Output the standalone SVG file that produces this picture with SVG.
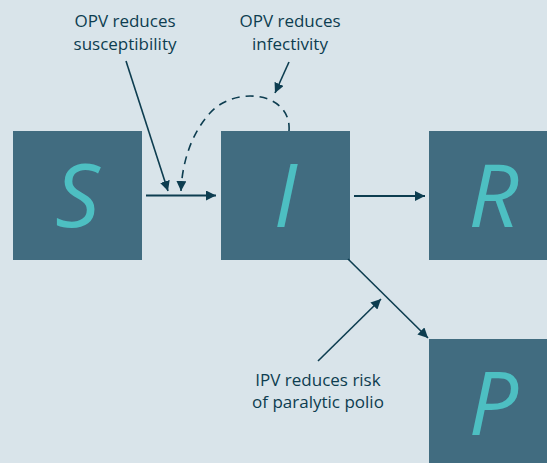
<svg xmlns="http://www.w3.org/2000/svg" width="547" height="463" viewBox="0 0 547 463">
<defs>
<style>
.box{fill:#416c80}
.let{fill:#4dbfc2;font-family:"Open Sans","Noto Sans",sans-serif;font-style:italic;font-size:88px;text-anchor:middle}
.lbl{fill:#0d3d50;font-family:"Open Sans","Noto Sans",sans-serif;font-size:17px;text-anchor:middle}
.ln{stroke:#0d3d50;fill:none;stroke-width:1.6}
.thick{stroke-width:2.2}
</style>
<marker id="ah" viewBox="0 0 10 10" refX="10" refY="5" markerWidth="10" markerHeight="10" markerUnits="userSpaceOnUse" orient="auto">
<path d="M0,0 L10,5 L0,10 Z" fill="#0d3d50"/>
</marker>
</defs>
<rect width="547" height="463" fill="#d9e4ea"/>
<g id="S"><rect class="box" x="13" y="131" width="129" height="129"/><text class="let" x="77.5" y="226.5">S</text></g>
<g id="I"><rect class="box" x="221" y="131" width="129" height="129"/><text class="let" x="285.5" y="226.5">I</text></g>
<g id="R"><rect class="box" x="429" y="131" width="129" height="129"/><text class="let" x="493.5" y="226.5">R</text></g>
<g id="P"><rect class="box" x="429" y="339" width="129" height="129"/><text class="let" x="493.5" y="434.5">P</text></g>
<g id="label-susceptibility"><text class="lbl" x="125" y="27">OPV reduces</text><text class="lbl" x="125" y="50">susceptibility</text></g>
<g id="label-infectivity"><text class="lbl" x="290" y="27">OPV reduces</text><text class="lbl" x="290" y="50">infectivity</text></g>
<g id="label-ipv"><text class="lbl" x="318" y="386">IPV reduces risk</text><text class="lbl" x="318" y="408">of paralytic polio</text></g>
<g id="connectors">
<line class="ln thick" x1="146" y1="195.5" x2="216" y2="195.5" marker-end="url(#ah)"/>
<line class="ln thick" x1="354" y1="196" x2="425" y2="196" marker-end="url(#ah)"/>
<line class="ln" x1="348" y1="259" x2="428" y2="338" marker-end="url(#ah)"/>
<line class="ln" x1="318" y1="361" x2="381" y2="299" marker-end="url(#ah)"/>
<line class="ln" x1="126" y1="61" x2="168" y2="191" marker-end="url(#ah)"/>
<line class="ln" x1="289" y1="62" x2="275" y2="93" marker-end="url(#ah)"/>
<path class="ln" stroke-dasharray="8,6" d="M289,131 C292,92 235,85 210,113 C190,135 182,165 181,191" marker-end="url(#ah)"/>
</g>
</svg>
